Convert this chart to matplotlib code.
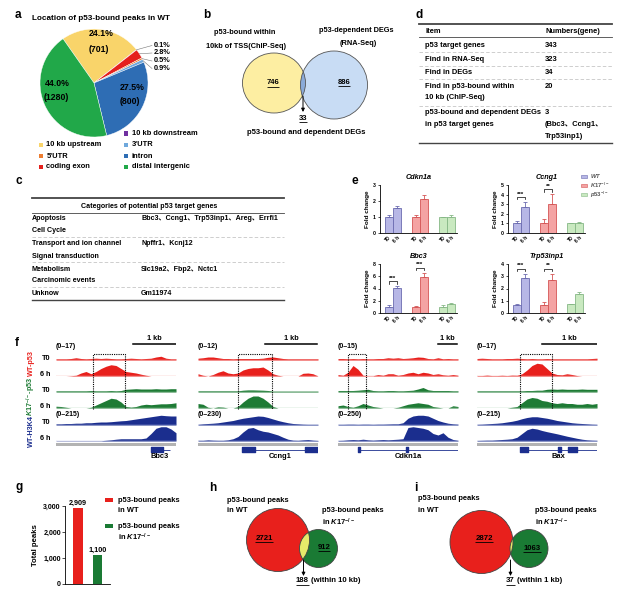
import numpy as np
import matplotlib
matplotlib.use('Agg')
import matplotlib.pyplot as plt
from matplotlib.patches import Circle, Ellipse, Rectangle

plt.rcParams['font.family'] = ['Liberation Sans', 'Noto Sans CJK SC', 'DejaVu Sans']
plt.rcParams['font.weight'] = 'bold'
plt.rcParams['mathtext.fontset'] = 'custom'
plt.rcParams['mathtext.rm'] = 'Liberation Sans:bold'
plt.rcParams['mathtext.it'] = 'Liberation Sans:italic:bold'
plt.rcParams['mathtext.bf'] = 'Liberation Sans:bold'
plt.rcParams['axes.linewidth'] = 0.6

# ======================= DATA =======================
# (a) pie
pie_labels = ['10 kb upstream', '10 kb downstream', 'coding exon', "5'UTR", "3'UTR", 'intron', 'distal intergenic']
pie_pct = [24.1, 0.1, 2.8, 0.5, 0.9, 27.5, 44.0]
pie_counts = [701, None, None, None, None, 800, 1280]
pie_colors = ['#f9d46a', '#7030a0', '#e5201c', '#ed7d31', '#6fa8dc', '#2e6db4', '#21a849']

# (b) venn
b_left_label = ['p53-bound within', '10kb of TSS(ChIP-Seq)']
b_right_label = ['p53-dependent DEGs', '(RNA-Seq)']
b_left_only = 746
b_right_only = 886
b_both = 33

# (d) table
d_header = ['Item', 'Numbers(gene)']
d_items = [['p53 target genes'], ['Find in RNA-Seq'], ['Find in DEGs'],
           ['Find in p53-bound within', '10 kb (ChIP-Seq)'],
           ['p53-bound and dependent DEGs', 'in p53 target genes']]
d_values = [['343'], ['323'], ['34'], ['20'], ['3', '(Bbc3、Ccng1、', 'Trp53inp1)']]

# (c) table
c_header = 'Categories of potential p53 target genes'
c_cats = ['Apoptosis', 'Cell Cycle', 'Transport and ion channel', 'Signal transduction',
          'Metabolism', 'Carcinomic events', 'Unknow']
c_genes = ['Bbc3、Ccng1、Trp53inp1、Areg、Errfi1', '', 'Npffr1、Kcnj12', '',
           'Slc19a2、Fbp2、Nctc1', '', 'Gm11974']

# (e) qPCR fold change: order WT T0, WT 6h, K17 T0, K17 6h, p53 T0, p53 6h
e_genes = ['Cdkn1a', 'Ccng1', 'Bbc3', 'Trp53inp1']
cdkn1a_mean = [1.0, 1.57, 1.0, 2.13, 1.0, 1.0]
cdkn1a_err = [0.15, 0.13, 0.13, 0.25, 0.02, 0.1]
ccng1_mean = [1.0, 2.7, 1.0, 3.0, 1.0, 1.0]
ccng1_err = [0.2, 0.55, 0.45, 1.05, 0.05, 0.15]
bbc3_mean = [1.0, 4.1, 1.0, 5.85, 1.0, 1.5]
bbc3_err = [0.35, 0.3, 0.2, 0.75, 0.25, 0.2]
trp53inp1_mean = [0.68, 2.85, 0.68, 2.7, 0.7, 1.58]
trp53inp1_err = [0.02, 0.35, 0.18, 0.5, 0.05, 0.1]
cdkn1a_sig = ['', '', '']
ccng1_sig = ['***', '**', '']
bbc3_sig = ['***', '***', '']
trp53inp1_sig = ['***', '**', '']
e_yticks_max = [3, 5, 8, 4]
e_groups = ['WT', 'K17', 'p53']
e_timepoints = ['T0', '6 h']

# (f) browser tracks, normalized signal (fraction of track scale), 25 bins per locus
loci = ['Bbc3', 'Ccng1', 'Cdkn1a', 'Bax']
p53_scales = ['(0–17)', '(0–12)', '(0–15)', '(0–17)']
h3k4_scales = ['(0–215)', '(0–230)', '(0–250)', '(0–215)']
track_names = ['T0', '6 h', 'T0', '6 h', 'T0', '6 h']

bbc3_wt_t0 = [.08,.08,.08,.1,.15,.1,.08,.1,.12,.1,.12,.1,.08,.08,.1,.12,.1,.08,.1,.12,.2,.25,.12,.08,.08]
bbc3_wt_6h = [0,0,0,.02,.05,.2,.3,.15,.3,.5,.65,.75,.7,.5,.3,.25,.2,.12,.05,0,0,0,0,0,0]
bbc3_k17_t0 = [.08,.08,.08,.08,.08,.08,.08,.1,.08,.08,.08,.1,.08,.1,.18,.2,.22,.2,.2,.2,.22,.2,.2,.22,.22]
bbc3_k17_6h = [.12,.1,.05,0,0,0,0,.05,.2,.35,.5,.65,.6,.4,.1,.06,.1,.2,.25,.22,.25,.28,.28,.3,.35]
bbc3_h3_t0 = [.08,.08,.1,.1,.12,.12,.15,.15,.18,.2,.2,.22,.25,.28,.3,.35,.4,.45,.5,.55,.6,.65,.62,.6,.6]
bbc3_h3_6h = [.02,.02,.02,.02,.02,.02,.02,.02,.02,.02,.05,.08,.12,.15,.15,.15,.15,.15,.2,.5,.85,.95,.95,.8,.55]

ccng1_wt_t0 = [.12,.15,.2,.2,.15,.1,.1,.08,.1,.1,.1,.1,.1,.12,.18,.2,.15,.1,.08,.08,.08,.08,.08,.08,.08]
ccng1_wt_6h = [.15,.05,0,.1,.25,.35,.2,.15,.2,.4,.5,.55,.55,.6,.4,.15,.05,0,0,0,0,.18,.2,.15,0]
ccng1_k17_t0 = [.08,.08,.08,.08,.08,.08,.08,.08,.08,.12,.14,.14,.13,.12,.1,.06,.06,.06,.06,.06,.06,.06,.06,.06,.06]
ccng1_k17_6h = [.3,.25,.05,0,.08,.06,0,0,.1,.4,.65,.8,.8,.65,.4,.1,0,0,0,0,0,0,0,0,0]
ccng1_h3_t0 = [.05,.08,.1,.12,.15,.2,.25,.3,.38,.45,.5,.55,.6,.58,.5,.4,.3,.22,.15,.1,.08,.06,.05,.05,.05]
ccng1_h3_6h = [.05,.05,.08,.06,.05,.05,.08,.15,.3,.6,.85,.9,.75,.65,.6,.5,.4,.25,.12,.06,.05,.08,.1,.06,.04]

cdkn1a_wt_t0 = [.1,.1,.08,.1,.08,.1,.08,.08,.1,.1,.15,.12,.15,.1,.12,.15,.2,.18,.1,.08,.15,.08,.1,.08,.08]
cdkn1a_wt_6h = [.1,.05,.25,.7,.45,.05,.02,.02,.1,.05,.15,.15,.05,.1,.2,.25,.15,.25,.2,.1,.15,.08,.05,.1,.05]
cdkn1a_k17_t0 = [.1,.1,.1,.1,.12,.15,.18,.1,.08,.08,.1,.1,.08,.08,.1,.12,.2,.3,.15,.1,.1,.1,.1,.08,.08]
cdkn1a_k17_6h = [.15,.2,.1,.05,.15,.3,.2,.1,.05,0,0,0,.05,.15,.25,.3,.35,.3,.25,.1,.05,0,0,.15,.1]
cdkn1a_h3_t0 = [.05,.05,.06,.06,.05,.06,.06,.05,.06,.06,.07,.08,.08,.15,.45,.6,.65,.65,.6,.45,.3,.2,.12,.08,.06]
cdkn1a_h3_6h = [.04,.05,.08,.1,.08,.12,.08,.06,.08,.1,.08,.1,.12,.15,.9,.95,.9,.85,.75,.5,.4,.55,.25,.1,.05]

bax_wt_t0 = [.1,.12,.1,.08,.08,.08,.1,.1,.12,.1,.08,.1,.08,.08,.1,.08,.08,.08,.08,.08,.08,.08,.08,.1,.12]
bax_wt_6h = [.03,.03,.06,.03,.03,.05,.03,.06,.05,.15,.4,.7,.85,.8,.5,.2,.1,.08,.15,.1,.03,0,0,0,0]
bax_k17_t0 = [.08,.08,.08,.08,.08,.08,.08,.08,.08,.08,.1,.1,.12,.12,.18,.2,.18,.2,.18,.18,.18,.2,.18,.18,.18]
bax_k17_6h = [0,0,0,0,0,0,0,.05,.1,.35,.6,.7,.65,.5,.45,.35,.3,.35,.3,.3,.25,.25,.3,.25,.3]
bax_h3_t0 = [.05,.06,.08,.1,.12,.15,.2,.25,.32,.42,.5,.55,.55,.5,.45,.38,.3,.25,.2,.15,.12,.1,.08,.06,.05]
bax_h3_6h = [.04,.05,.06,.06,.08,.1,.12,.15,.25,.5,.75,.85,.8,.7,.62,.55,.48,.4,.32,.25,.18,.12,.08,.06,.05]

tracks = {
    'Bbc3': [bbc3_wt_t0, bbc3_wt_6h, bbc3_k17_t0, bbc3_k17_6h, bbc3_h3_t0, bbc3_h3_6h],
    'Ccng1': [ccng1_wt_t0, ccng1_wt_6h, ccng1_k17_t0, ccng1_k17_6h, ccng1_h3_t0, ccng1_h3_6h],
    'Cdkn1a': [cdkn1a_wt_t0, cdkn1a_wt_6h, cdkn1a_k17_t0, cdkn1a_k17_6h, cdkn1a_h3_t0, cdkn1a_h3_6h],
    'Bax': [bax_wt_t0, bax_wt_6h, bax_k17_t0, bax_k17_6h, bax_h3_t0, bax_h3_6h],
}
# gene models in bin units: (intron line start, end), exon (start, width)
gene_lines = {'Bbc3': (19.0, 22.8), 'Ccng1': (8.8, 24.0), 'Cdkn1a': (4.0, 24.0), 'Bax': (8.6, 24.0)}
gene_exons = {'Bbc3': [(19.0, 2.4)], 'Ccng1': [(8.8, 2.6), (21.4, 2.6)],
              'Cdkn1a': [(4.0, 0.4), (13.6, 0.4)], 'Bax': [(8.6, 1.6), (16.2, 0.6), (18.2, 1.8)]}
# highlighted peak windows (bins)
peak_boxes = {'Bbc3': (7.4, 13.8), 'Ccng1': (8.0, 14.8), 'Cdkn1a': (2.0, 5.6), 'Bax': (8.6, 15.0)}
# 1 kb scale bars (bins)
kb_bars = {'Bbc3': (15.4, 24.0), 'Ccng1': (13.4, 23.8), 'Cdkn1a': (20.0, 23.8), 'Bax': (13.0, 24.0)}

# (g) total peaks
g_groups = ['p53-bound peaks\nin WT', 'p53-bound peaks\nin K17']
g_totals = [2909, 1100]

# (h) / (i) venns
h_wt_only, h_k17_only, h_both = 2721, 912, 188
i_wt_only, i_k17_only, i_both = 2872, 1063, 37

# ======================= FIGURE =======================
W, H = 622, 592
fig = plt.figure(figsize=(W / 100, H / 100), dpi=100)


def add_ax(x0, y0, x1, y1):
    a = fig.add_axes([x0 / W, 1 - y1 / H, (x1 - x0) / W, (y1 - y0) / H])
    a.patch.set_visible(False)
    return a


ov = add_ax(0, 0, W, H)
ov.set_xlim(0, W)
ov.set_ylim(H, 0)
ov.axis('off')
ov.set_autoscale_on(False)
ov.set_zorder(10)
renderer = fig.canvas.get_renderer()


def T(x, y, s, size=5.5, ha='left', va='center', color='k', **kw):
    return ov.text(x, y, s, fontsize=size, ha=ha, va=va, color=color, fontweight='bold', **kw)


def underline(t, lw=0.6):
    bb = t.get_window_extent(renderer)
    y = H - bb.y0 + 0.3
    ov.plot([bb.x0, bb.x1], [y, y], color=t.get_color(), lw=lw, solid_capstyle='butt')


# panel letters
for lab, x, y in [('a', 15, 15), ('b', 203, 15), ('d', 415, 15), ('c', 15, 181), ('e', 351, 181),
                  ('f', 15, 343), ('g', 16, 487), ('h', 209, 488), ('i', 414, 488)]:
    T(x, y, lab, size=8.5)

# ---------------- (a) pie ----------------
T(101, 19, 'Location of p53-bound peaks in WT', size=5.9, ha='center')
pcx, pcy, pr = 94, 83, 54
ax_pie = add_ax(pcx - pr, pcy - pr, pcx + pr, pcy + pr)
wedges, _ = ax_pie.pie(pie_pct, colors=pie_colors, startangle=125, counterclock=False, radius=1,
                       wedgeprops=dict(linewidth=0.3, edgecolor='white'))
ax_pie.set_xlim(-1, 1)
ax_pie.set_ylim(-1, 1)
ax_pie.set_aspect('equal')
# inner labels for big slices
inner_pos = {0: (101, 34, 99, 49), 5: (132, 88, 130, 102), 6: (57, 83, 56, 97)}
for i, (x1, y1, x2, y2) in inner_pos.items():
    T(x1, y1, f'{pie_pct[i]:.1f}%', size=6.3, ha='center')
    T(x2, y2, f'({pie_counts[i]})', size=6.3, ha='center')
# outer labels for tiny slices
small_y = {1: 45.5, 2: 53, 3: 61, 4: 68.5}
for i, ly in small_y.items():
    w = wedges[i]
    mid = np.deg2rad((w.theta1 + w.theta2) / 2)
    px, py = pcx + pr * np.cos(mid), pcy - pr * np.sin(mid)
    ov.plot([px, 152], [py, ly], color='#777777', lw=0.4)
    T(154, ly, f'{pie_pct[i]:.1f}%', size=5.3)
# legend
leg_pos = {1: (124, 133.5), 0: (39, 145), 4: (124, 145), 3: (39, 156), 5: (124, 156), 2: (39, 167), 6: (124, 167)}
for i, (lx, ly) in leg_pos.items():
    ov.add_patch(Rectangle((lx, ly - 2.2), 4.4, 4.4, color=pie_colors[i], lw=0))
    T(lx + 7.5, ly, pie_labels[i], size=5.4)

# ---------------- (b) venn ----------------
T(245, 32, b_left_label[0], size=5.3, ha='center')
T(246, 46, b_left_label[1], size=5.3, ha='center')
T(356, 30, b_right_label[0], size=5.3, ha='center')
T(358, 43.5, b_right_label[1], size=5.3, ha='center')


def venn(cA, rA, cB, rB, fA, fB, fAB, edge, lw=0.6):
    A = Ellipse(cA, 2 * rA[0], 2 * rA[1], fc=fA, ec='none')
    B = Ellipse(cB, 2 * rB[0], 2 * rB[1], fc=fB, ec='none')
    AB = Ellipse(cA, 2 * rA[0], 2 * rA[1], fc=fAB, ec='none')
    for p in (A, B, AB):
        ov.add_patch(p)
    AB.set_clip_path(Ellipse(cB, 2 * rB[0], 2 * rB[1], transform=ov.transData))
    ov.add_patch(Ellipse(cA, 2 * rA[0], 2 * rA[1], fc='none', ec=edge, lw=lw))
    ov.add_patch(Ellipse(cB, 2 * rB[0], 2 * rB[1], fc='none', ec=edge, lw=lw))


venn((274, 83), (31.5, 30), (334, 85), (33.5, 34), '#fdeea2', '#c8dcf4', '#8aaad8', '#555555')
underline(T(273, 83, str(b_left_only), size=5.5, ha='center'))
underline(T(344, 82, str(b_right_only), size=5.5, ha='center'))
ov.annotate('', xy=(303, 112), xytext=(303, 96),
            arrowprops=dict(arrowstyle='-|>', lw=0.7, color='k', mutation_scale=5, shrinkA=0, shrinkB=0))
underline(T(303, 118.5, str(b_both), size=5.5, ha='center'))
T(306, 133, 'p53-bound and dependent DEGs', size=5.5, ha='center')

# ---------------- (d) table ----------------
dx0, dx1 = 419, 612
ov.plot([dx0, dx1], [24, 24], color='#444444', lw=1.3)
T(425, 31.5, d_header[0], size=5.45)
T(545, 31.5, d_header[1], size=5.45)
ov.plot([dx0, dx1], [37.3, 37.3], color='#444444', lw=0.6)
d_row_y = [45.7, 59.3, 72.7, 86.0, 112.7]
d_line_gap = 11.8
for k, (items, vals) in enumerate(zip(d_items, d_values)):
    for j, s in enumerate(items):
        T(425, d_row_y[k] + j * d_line_gap, s, size=5.45)
    for j, s in enumerate(vals):
        T(545, d_row_y[k] + j * d_line_gap, s, size=5.45)
for yy in [52.3, 65.7, 79.3, 106]:
    ov.plot([dx0, dx1], [yy, yy], color='#bbbbbb', lw=0.5, ls=(0, (5, 3)))
ov.plot([dx0, dx1], [143, 143], color='#444444', lw=1.0)

# ---------------- (c) table ----------------
cx0, cx1 = 32, 284
ov.plot([cx0, cx1], [198.3, 198.3], color='#444444', lw=1.3)
T(149, 206, c_header, size=5.1, ha='center')
ov.plot([cx0, cx1], [212.7, 212.7], color='#444444', lw=0.6)
c_row_y = [219, 230.7, 243.3, 256, 269.3, 280.7, 293.3]
for k, (cat, gn) in enumerate(zip(c_cats, c_genes)):
    T(32, c_row_y[k], cat, size=5.1)
    if gn:
        T(141, c_row_y[k], gn, size=5.1)
for yy in [237.3, 261.7, 286.7]:
    ov.plot([cx0, cx1], [yy, yy], color='#bbbbbb', lw=0.5, ls=(0, (5, 3)))
ov.plot([cx0, cx1], [299.5, 299.5], color='#444444', lw=1.0)

# ---------------- (e) bar charts ----------------
e_fill = ['#b7b7e6', '#f4a3a3', '#c9e9c0']
e_edge = ['#6b6bb0', '#d45555', '#86b886']
e_means = [cdkn1a_mean, ccng1_mean, bbc3_mean, trp53inp1_mean]
e_errs = [cdkn1a_err, ccng1_err, bbc3_err, trp53inp1_err]
e_sigs = [cdkn1a_sig, ccng1_sig, bbc3_sig, trp53inp1_sig]
e_boxes = [(380, 185, 457, 233), (508, 185, 585, 233), (380, 264, 457, 313), (508, 264, 585, 313)]
bw = 0.31
for gi_, gene in enumerate(e_genes):
    ax = add_ax(*e_boxes[gi_])
    means, errs, sigs, ymax = e_means[gi_], e_errs[gi_], e_sigs[gi_], e_yticks_max[gi_]
    xs_all = []
    for g in range(3):
        for t in range(2):
            k = 2 * g + t
            x = g + (t - 0.5) * bw
            xs_all.append(x)
            ax.bar(x, means[k], width=bw, color=e_fill[g], edgecolor=e_edge[g], lw=0.6)
            ax.errorbar(x, means[k], yerr=[[0], [errs[k]]], color=e_edge[g], capsize=1.5,
                        elinewidth=0.6, capthick=0.6)
        if sigs[g]:
            top = max(means[2 * g] + errs[2 * g], means[2 * g + 1] + errs[2 * g + 1]) + 0.1 * ymax
            xa, xb = g - 0.5 * bw, g + 0.5 * bw
            ax.plot([xa, xa, xb, xb], [top - 0.05 * ymax, top, top, top - 0.05 * ymax],
                    color='k', lw=0.5, clip_on=False)
            ax.text(g, top + 0.01 * ymax, sigs[g], ha='center', va='bottom', fontsize=4.5, fontweight='bold')
    ax.set_xlim(-0.48, 2.37)
    ax.set_ylim(0, ymax)
    step = 2 if ymax == 8 else 1
    ax.set_yticks(range(0, ymax + 1, step))
    ax.set_xticks(xs_all)
    ax.set_xticklabels(e_timepoints * 3, rotation=45, ha='right', va='top', rotation_mode='anchor')
    ax.tick_params(axis='x', length=0, labelsize=3.6, pad=1.5)
    ax.tick_params(axis='y', length=1.8, width=0.5, labelsize=3.8, pad=1)
    for lbl in ax.get_xticklabels() + ax.get_yticklabels():
        lbl.set_fontweight('bold')
    for sp in ['top', 'right']:
        ax.spines[sp].set_visible(False)
    ax.set_ylabel('Fold change', fontsize=4.6, fontweight='bold', labelpad=2.5)
    ax.set_title(gene, fontsize=5.2, fontweight='bold', style='italic', pad=4)
e_leg_labels = [r'$\it{WT}$', r'$\it{K17}^{-/-}$', r'$\it{p53}^{-/-}$']
for g, ly in enumerate([176.5, 185.5, 194.5]):
    ov.add_patch(Rectangle((581, ly - 1.6), 6, 3.2, fc=e_fill[g], ec=e_edge[g], lw=0.4))
    T(589.5, ly, e_leg_labels[g], size=4.2, color='#555555')

# ---------------- (f) genome browser ----------------
locus_x = {'Bbc3': (56, 176), 'Ccng1': (198, 318), 'Cdkn1a': (338, 458), 'Bax': (477, 597)}
track_base_y = [360, 376, 392, 408, 425, 441]
trk_col = ['#e8201c', '#e8201c', '#1e7b35', '#1e7b35', '#1b2e8e', '#1b2e8e']
trk_light = ['#f5a9a7', '#f5a9a7', '#a3cdab', '#a3cdab', '#b9c0e6', '#b9c0e6']
for ti, yb in enumerate(track_base_y):
    T(50, yb - 2, track_names[ti], size=5.2, ha='right')
T(31, 363, 'WT-p53', size=5.2, ha='center', rotation=90, color='#e8201c')
T(31, 396, r'$\it{K17}^{-/-}$-p53', size=5.2, ha='center', rotation=90, color='#1e7b35')
T(31, 431, 'WT-H3K4', size=5.2, ha='center', rotation=90, color='#1b2e8e')
nb = 25
bins = np.arange(nb)
for li, loc in enumerate(loci):
    x0, x1 = locus_x[loc]
    for ti, yb in enumerate(track_base_y):
        ax = add_ax(x0, yb - 15, x1, yb)
        ax.axis('off')
        ax.set_xlim(0, nb - 1)
        ax.set_ylim(0, 1)
        ax.plot([0, nb - 1], [0.02, 0.02], color=trk_light[ti], lw=1.0)
        ax.fill_between(bins, 0, tracks[loc][ti], color=trk_col[ti], lw=0)
    # range labels
    T(x0, 347, p53_scales[li], size=5.0)
    T(x0, 414, h3k4_scales[li], size=5.0)
    # helper axes for scale bar, peak box, gene model (bin coordinates)
    axa = add_ax(x0, 336, x1, 460)
    axa.axis('off')
    axa.set_xlim(0, nb - 1)
    axa.set_ylim(460, 336)
    kb0, kb1 = kb_bars[loc]
    axa.plot([kb0, kb1], [344, 344], color='k', lw=1.1)
    axa.text((kb0 + kb1) / 2, 338.5, '1 kb', ha='center', va='center', fontsize=5.2, fontweight='bold')
    pb0, pb1 = peak_boxes[loc]
    axa.plot([pb0, pb0, pb1, pb1], [409, 354, 354, 409], color='k', lw=0.8, ls=(0, (1, 1)))
    axa.add_patch(Rectangle((0, 443.2), nb - 1, 2.6, color='#b3b3b3', lw=0))
    gl0, gl1 = gene_lines[loc]
    axa.hlines(449.5, gl0, gl1, color='#1b2e8e', lw=0.6)
    axa.broken_barh(gene_exons[loc], (447, 5), color='#1b2e8e')
    axa.text((gl0 + gl1) / 2 if loc != 'Bbc3' else 20.8, 457, loc, ha='center', va='center',
             fontsize=5.4, fontweight='bold')

# ---------------- (g) total peaks ----------------
axg = add_ax(65, 506, 110, 584)
g_colors = ['#e8201c', '#1a7a34']
axg.bar([0, 1], g_totals, width=0.5, color=g_colors)
for k, v in enumerate(g_totals):
    axg.text(k, v + 60, f'{v:,}', ha='center', va='bottom', fontsize=5.2, fontweight='bold', clip_on=False)
axg.set_xlim(-0.67, 1.64)
axg.set_ylim(0, 3000)
axg.set_yticks([0, 1000, 2000, 3000])
axg.set_yticklabels([f'{v:,}' for v in [0, 1000, 2000, 3000]])
axg.set_xticks([])
axg.tick_params(axis='y', length=2, width=0.5, labelsize=5, pad=1)
for lbl in axg.get_yticklabels():
    lbl.set_fontweight('bold')
for sp in ['top', 'right']:
    axg.spines[sp].set_visible(False)
axg.set_ylabel('Total peaks', fontsize=5.6, fontweight='bold', labelpad=3)
ov.add_patch(Rectangle((105, 497.8), 8, 4.4, color=g_colors[0], lw=0))
T(118, 500, 'p53-bound peaks', size=5.4)
T(118, 510.5, 'in WT', size=5.4)
ov.add_patch(Rectangle((105, 523.8), 8, 4.4, color=g_colors[1], lw=0))
T(118, 526, 'p53-bound peaks', size=5.4)
T(118, 537, r'in $\it{K17}^{-/-}$', size=5.4)

# ---------------- (h) venn ----------------
T(227, 500, 'p53-bound peaks', size=5.4)
T(227, 511, 'in WT', size=5.4)
T(322, 510, 'p53-bound peaks', size=5.4)
T(322, 522, r'in $\it{K17}^{-/-}$', size=5.4)
venn((278, 540), (31.5, 31.5), (318.5, 548.5), (19, 19), '#e8201c', '#1a7a34', '#e6ea6a', '#444444')
underline(T(264, 538, str(h_wt_only), size=5.6, ha='center'))
underline(T(324, 547.5, str(h_k17_only), size=5.6, ha='center'))
ov.annotate('', xy=(303.5, 576), xytext=(303.5, 560),
            arrowprops=dict(arrowstyle='-|>', lw=0.7, color='k', mutation_scale=5, shrinkA=0, shrinkB=0))
t = T(296, 581, str(h_both), size=5.6)
underline(t)
T(t.get_window_extent(renderer).x1 + 2, 581, '(within 10 kb)', size=5.6)

# ---------------- (i) venn ----------------
T(418, 499, 'p53-bound peaks', size=5.4)
T(418, 510, 'in WT', size=5.4)
T(535, 510, 'p53-bound peaks', size=5.4)
T(535, 522, r'in $\it{K17}^{-/-}$', size=5.4)
venn((481.5, 542), (31.5, 31.5), (529, 548.5), (19, 19), '#e8201c', '#1a7a34', '#e6ea6a', '#444444')
underline(T(484, 538, str(i_wt_only), size=5.6, ha='center'))
underline(T(532, 548, str(i_k17_only), size=5.6, ha='center'))
ov.annotate('', xy=(510.5, 576), xytext=(510.5, 560),
            arrowprops=dict(arrowstyle='-|>', lw=0.7, color='k', mutation_scale=5, shrinkA=0, shrinkB=0))
t = T(506, 581, str(i_both), size=5.6)
underline(t)
T(t.get_window_extent(renderer).x1 + 2, 581, '(within 1 kb)', size=5.6)

fig.savefig('out.png', dpi=100)
